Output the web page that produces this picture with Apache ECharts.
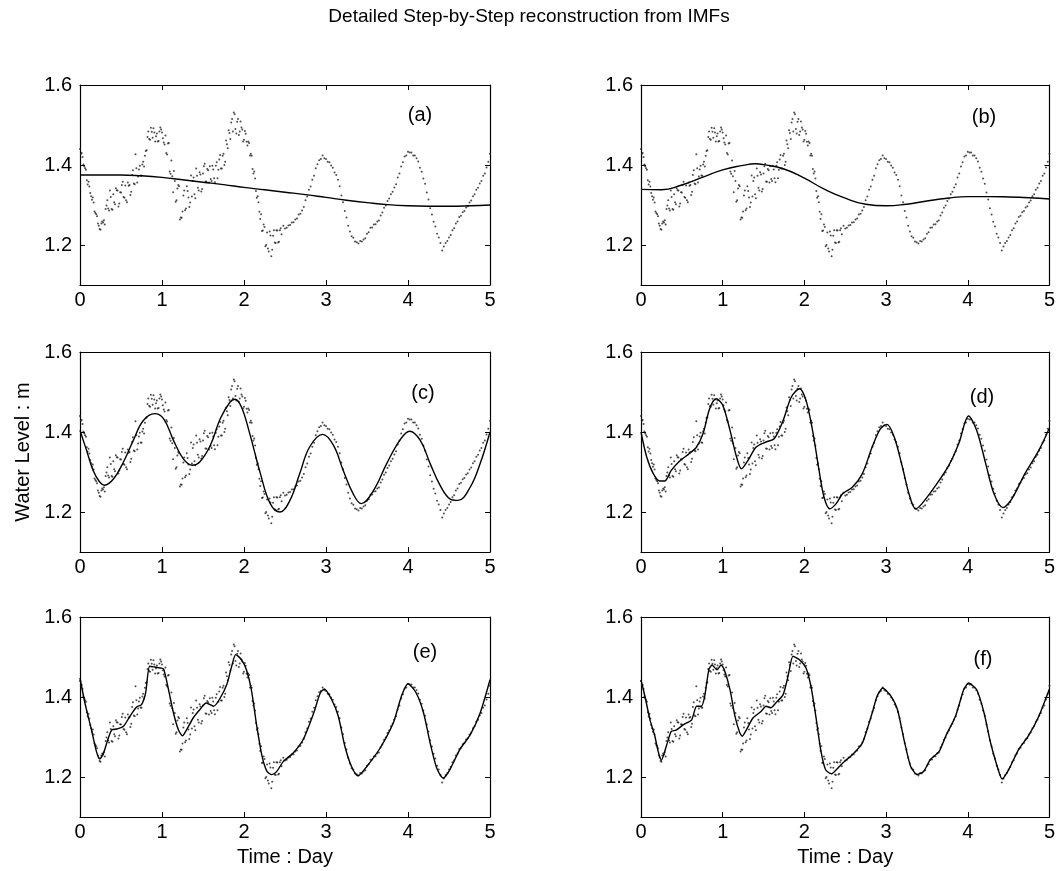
<!DOCTYPE html>
<html><head><meta charset="utf-8">
<script src="https://cdn.jsdelivr.net/npm/echarts@6/dist/echarts.min.js"></script>
<style>html,body{margin:0;padding:0;background:#fff}#c{width:1058px;height:871px}</style>
</head><body><div id="c"></div>
<script>
const titleText = 'Detailed Step-by-Step reconstruction from IMFs';
const panelLabels = ['(a)', '(b)', '(c)', '(d)', '(e)', '(f)'];
const xLabelText = 'Time : Day';
const yLabelText = 'Water Level : m';
const yTickValues = [1.2, 1.4, 1.6];

// observed water level, sampled every 1/48 day from day 0
const obsStep = 1 / 48;
const obsA = [
1.440,1.430,1.401,1.392,1.362,1.358,1.330,1.313,1.306,1.280,1.272,1.248,
1.238,1.259,1.262,1.290,1.312,1.286,1.320,1.288,1.307,1.342,1.336,1.304,
1.331,1.358,1.318,1.312,1.356,1.350,1.333,1.387,1.352,1.392,1.371,1.398,
1.373,1.408,1.423,1.437,1.484,1.463,1.483,1.492,1.459,1.479,1.460,1.494,
1.481,1.456,1.474,1.426,1.455,1.378,1.372,1.385,1.308,1.341,1.347,1.269,
1.284,1.336,1.291,1.335,1.295,1.374,1.360,1.327,1.391,1.343,1.382,1.334,
1.379,1.403,1.358,1.387,1.397,1.360,1.389,1.357,1.407,1.388,1.425,1.391,
1.428,1.408,1.452,1.487,1.465,1.515,1.531,1.490,1.508,1.475,1.509,1.489,
1.463,1.478,1.449,1.455,1.428,1.390,1.384,1.335,1.322,1.283,1.277,1.236,
1.245,1.200,1.191,1.234,1.172,1.223,1.206,1.237,1.206,1.237,1.227,1.248,
1.241,1.243,1.249,1.250,1.256,1.257,1.264,1.266,1.276,1.278,1.286,1.295,
1.312,1.321,1.338,1.346,1.363,1.373,1.392,1.402,1.412,1.415,1.424,1.417,
1.415,1.408,1.407,1.399,1.393,1.381,1.375,1.363,1.347,1.324,1.307,1.285,
1.269,1.248,1.234,1.222,1.218,1.209,1.207,1.204,1.210,1.209,1.214,1.217,
1.228,1.232,1.243,1.244,1.251,1.252,1.259,1.261,1.274,1.281,1.293,1.299,
1.310,1.316,1.327,1.333,1.344,1.352,1.369,1.379,1.396,1.407,1.421,1.424,
1.433,1.431,1.431,1.424,1.424,1.417,1.409,1.393,1.383,1.366,1.353,1.331,
1.314,1.292,1.276,1.258,1.246,1.228,1.219,1.205,1.186,1.196,1.205,1.210,
1.219,1.225,1.237,1.242,1.254,1.259,1.270,1.273,1.282,1.285,1.294,1.297,
1.306,1.311,1.322,1.327,1.338,1.343,1.354,1.360,1.373,1.379,1.394,1.408,
1.428
];
// extra noisy samples, offset half a step, first 2.45 days
const obsB = [
1.428,1.420,1.396,1.388,1.351,1.346,1.322,1.319,1.284,1.277,1.254,1.240,
1.254,1.256,1.251,1.299,1.291,1.336,1.290,1.327,1.302,1.337,1.296,1.332,
1.350,1.320,1.349,1.307,1.348,1.325,1.375,1.354,1.427,1.356,1.389,1.374,
1.401,1.396,1.435,1.470,1.465,1.493,1.468,1.481,1.472,1.459,1.484,1.489,
1.467,1.451,1.430,1.454,1.384,1.411,1.332,1.360,1.312,1.350,1.264,1.268,
1.324,1.287,1.347,1.319,1.306,1.321,1.369,1.317,1.373,1.336,1.376,1.340,
1.397,1.359,1.390,1.356,1.365,1.398,1.367,1.398,1.367,1.414,1.391,1.423,
1.400,1.461,1.442,1.480,1.506,1.484,1.527,1.479,1.515,1.484,1.494,1.459,
1.485,1.458,1.459,1.424,1.423,1.379,1.366,1.318,1.307,1.265,1.235,1.251,
1.197,1.231,1.184,1.224,1.188,1.237,1.205,1.236,1.208,1.242
];

// reconstructions (a)-(f)
const recA_t = [0,0.25,0.5,0.75,1,1.25,1.5,1.75,2,2.25,2.5,2.75,3,3.25,3.5,3.75,4,4.25,4.5,4.75,5];
const recA_v = [1.375,1.375,1.375,1.373,1.369,1.363,1.357,1.351,1.344,1.338,1.332,1.326,1.319,1.312,1.306,1.301,1.298,1.297,1.297,1.298,1.300];
const recB_t = [0,0.25,0.5,0.75,1,1.25,1.4,1.5,1.75,2,2.25,2.5,2.75,3,3.25,3.5,3.75,4,4.25,4.5,4.75,5];
const recB_v = [1.339,1.338,1.35,1.369,1.388,1.399,1.403,1.401,1.39,1.367,1.339,1.317,1.302,1.298,1.302,1.31,1.317,1.321,1.321,1.32,1.318,1.315];
const recC_t = [0,0.08,0.16,0.24,0.30,0.41,0.53,0.65,0.77,0.91,1.02,1.14,1.26,1.37,1.46,1.59,1.71,1.83,1.89,1.97,2.07,2.20,2.32,2.44,2.56,2.68,2.80,2.96,3.09,3.21,3.33,3.43,3.58,3.74,3.90,4.02,4.15,4.27,4.39,4.51,4.61,4.76,4.88,5.0];
const recC_v = [1.404,1.354,1.304,1.275,1.267,1.283,1.325,1.379,1.428,1.446,1.433,1.379,1.333,1.317,1.325,1.367,1.433,1.475,1.482,1.462,1.396,1.296,1.221,1.200,1.229,1.296,1.3625,1.394,1.367,1.304,1.246,1.221,1.254,1.321,1.379,1.402,1.379,1.321,1.267,1.233,1.229,1.2625,1.321,1.40];
const recD_t = [0,0.07,0.15,0.23,0.29,0.37,0.48,0.58,0.68,0.76,0.84,0.92,1.0,1.09,1.17,1.23,1.31,1.41,1.53,1.63,1.74,1.84,1.94,2.02,2.10,2.18,2.24,2.31,2.39,2.47,2.59,2.71,2.83,2.93,3.01,3.10,3.20,3.28,3.36,3.44,3.61,3.77,3.89,4.01,4.11,4.22,4.32,4.43,4.54,4.70,4.87,5.0];
const recD_v = [1.40,1.3375,1.296,1.2775,1.2775,1.304,1.329,1.344,1.3625,1.396,1.458,1.483,1.467,1.404,1.3375,1.308,1.329,1.3625,1.375,1.383,1.429,1.4875,1.508,1.479,1.404,1.304,1.2375,1.208,1.221,1.246,1.2625,1.296,1.3625,1.408,1.419,1.3875,1.3125,1.246,1.208,1.221,1.267,1.317,1.371,1.44,1.404,1.321,1.246,1.211,1.233,1.296,1.354,1.41];
const recE_t = [0,0.06,0.14,0.20,0.24,0.28,0.35,0.39,0.45,0.53,0.61,0.69,0.75,0.80,0.85,0.91,0.98,1.02,1.08,1.14,1.20,1.25,1.30,1.38,1.46,1.54,1.63,1.71,1.79,1.85,1.90,1.97,2.03,2.09,2.15,2.22,2.28,2.34,2.40,2.48,2.60,2.72,2.85,2.93,2.98,3.07,3.15,3.23,3.31,3.39,3.50,3.66,3.82,3.92,4.0,4.10,4.19,4.27,4.35,4.43,4.51,4.63,4.76,4.88,5.0];
const recE_v = [1.4475,1.385,1.318,1.264,1.245,1.256,1.30,1.318,1.32,1.327,1.352,1.375,1.381,1.41,1.477,1.475,1.4725,1.47,1.418,1.36,1.318,1.303,1.318,1.3475,1.368,1.385,1.377,1.3975,1.431,1.477,1.506,1.493,1.468,1.418,1.335,1.252,1.214,1.206,1.214,1.239,1.26,1.293,1.36,1.41,1.42,1.393,1.352,1.277,1.227,1.203,1.227,1.2725,1.335,1.402,1.433,1.41,1.36,1.285,1.2225,1.1975,1.218,1.268,1.306,1.36,1.443];
const recF_t = [0,0.05,0.11,0.17,0.21,0.25,0.31,0.37,0.43,0.52,0.62,0.68,0.74,0.78,0.83,0.87,0.93,0.98,1.02,1.09,1.15,1.21,1.24,1.29,1.37,1.47,1.53,1.59,1.65,1.74,1.80,1.86,1.94,2.02,2.08,2.14,2.20,2.26,2.33,2.39,2.47,2.59,2.71,2.83,2.89,2.96,3.06,3.14,3.22,3.30,3.38,3.46,3.54,3.65,3.73,3.85,3.95,4.01,4.11,4.20,4.28,4.36,4.42,4.50,4.62,4.74,4.87,5.0];
const recF_v = [1.443,1.40,1.343,1.302,1.264,1.242,1.277,1.314,1.317,1.331,1.343,1.377,1.377,1.402,1.468,1.48,1.468,1.48,1.468,1.418,1.352,1.31,1.302,1.318,1.3475,1.364,1.377,1.373,1.385,1.406,1.452,1.502,1.493,1.4725,1.427,1.352,1.268,1.218,1.208,1.218,1.235,1.256,1.285,1.36,1.402,1.4225,1.402,1.368,1.293,1.227,1.206,1.214,1.243,1.264,1.302,1.352,1.418,1.435,1.418,1.36,1.285,1.227,1.195,1.218,1.268,1.302,1.352,1.42];

const recs = [
  [recA_t, recA_v, 0.5], [recB_t, recB_v, 0.5], [recC_t, recC_v, 0.4],
  [recD_t, recD_v, 0.3], [recE_t, recE_v, 0.25], [recF_t, recF_v, 0.2]
];

const FONT = '"Liberation Sans", Arial, Helvetica, sans-serif';
const FS = 20;
const gridPos = [[80, 85], [641, 85], [80, 352], [641, 352], [80, 617], [641, 617]];
const labelPos = [[420, 115], [984, 117], [423, 393], [982, 397], [425, 652], [983, 659]];

const obsAData = obsA.map((v, i) => [i * obsStep, v]);
const obsBData = obsB.map((v, i) => [(i + 0.5) * obsStep, v]);

const grid = [], xAxis = [], yAxis = [], series = [], graphic = [];
gridPos.forEach(([l, t], i) => {
  grid.push({ left: l, top: t, width: 410, height: 200, show: false });
  const lineStyle = { color: '#000', width: 1.2 };
  const isBottom = i >= 4;
  xAxis.push({
    gridIndex: i, type: 'value', min: 0, max: 5, interval: 1, position: 'bottom',
    axisLine: { show: true, onZero: false, lineStyle },
    axisTick: { inside: true, length: 5, lineStyle: { color: '#000' } },
    axisLabel: { color: '#000', fontSize: FS, fontFamily: FONT, margin: 5 },
    splitLine: { show: false },
    name: isBottom ? xLabelText : '', nameLocation: 'middle', nameGap: 30,
    nameTextStyle: { color: '#000', fontSize: FS, fontFamily: FONT }
  });
  xAxis.push({
    gridIndex: i, type: 'value', min: 0, max: 5, interval: 1, position: 'top',
    axisLine: { show: true, onZero: false, lineStyle },
    axisTick: { inside: true, length: 5, lineStyle: { color: '#000' } },
    axisLabel: { show: false }, splitLine: { show: false }
  });
  yAxis.push({
    gridIndex: i, type: 'value', min: 1.1, max: 1.6, position: 'left',
    axisLine: { show: true, onZero: false, lineStyle },
    axisTick: { inside: true, length: 5, customValues: yTickValues, lineStyle: { color: '#000' } },
    axisLabel: { color: '#000', fontSize: FS, fontFamily: FONT, margin: 8, customValues: yTickValues,
      formatter: v => v.toFixed(1) },
    splitLine: { show: false },
    name: i === 2 ? yLabelText : '', nameLocation: 'middle', nameGap: 47, nameRotate: 90,
    nameTextStyle: { color: '#000', fontSize: FS, fontFamily: FONT }
  });
  yAxis.push({
    gridIndex: i, type: 'value', min: 1.1, max: 1.6, position: 'right',
    axisLine: { show: true, onZero: false, lineStyle },
    axisTick: { inside: true, length: 5, customValues: yTickValues, lineStyle: { color: '#000' } },
    axisLabel: { show: false }, splitLine: { show: false }
  });
  const scat = {
    type: 'scatter', xAxisIndex: 2 * i, yAxisIndex: 2 * i, symbol: 'circle', symbolSize: 2,
    itemStyle: { color: '#222' }, silent: true, z: 2
  };
  series.push(Object.assign({}, scat, { data: obsAData }));
  series.push(Object.assign({}, scat, { data: obsBData }));
  const [ts, vs, sm] = recs[i];
  series.push({
    type: 'line', xAxisIndex: 2 * i, yAxisIndex: 2 * i, showSymbol: false, smooth: sm,
    lineStyle: { color: '#000', width: 1.4 }, silent: true, z: 3,
    data: ts.map((t, k) => [t, vs[k]])
  });
  graphic.push({
    type: 'text', x: labelPos[i][0], y: labelPos[i][1], z: 10,
    style: { text: panelLabels[i], fill: '#000', font: FS + 'px ' + FONT, textAlign: 'center', textVerticalAlign: 'middle' }
  });
});

const chart = echarts.init(document.getElementById('c'), null, { renderer: 'canvas' });
chart.setOption({
  animation: false,
  backgroundColor: '#fff',
  title: { text: titleText, left: 'center', top: 7, padding: 0,
    textStyle: { color: '#000', fontSize: 19, fontWeight: 'normal', fontFamily: FONT } },
  grid, xAxis, yAxis, series, graphic
});
</script>
</body></html>
